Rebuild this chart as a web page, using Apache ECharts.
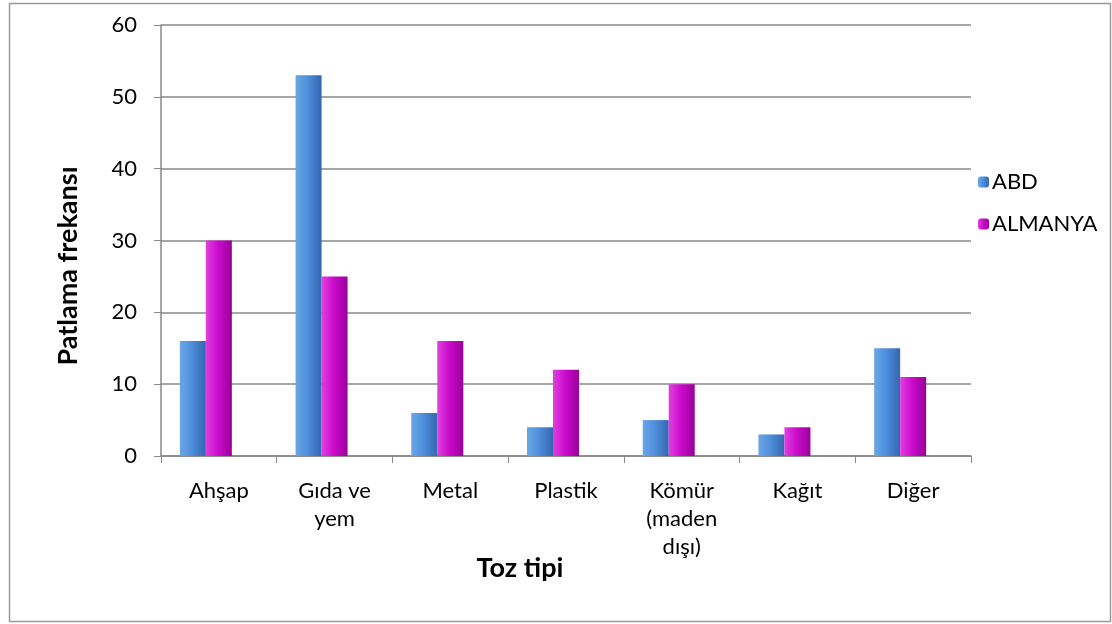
<!DOCTYPE html>
<html>
<head>
<meta charset="utf-8">
<script src="https://cdn.jsdelivr.net/npm/echarts@6/dist/echarts.min.js"></script>
<style>
  html, body { margin: 0; padding: 0; background: #fff; }
  #main { width: 1112px; height: 624px; }
</style>
</head>
<body>
<div id="main"></div>
<script>
// veriler
var categories = ['Ahşap', 'Gıda ve\nyem', 'Metal', 'Plastik', 'Kömür\n(maden\ndışı)', 'Kağıt', 'Diğer']
var abd = [16, 53, 6, 4, 5, 3, 15]
var almanya = [30, 25, 16, 12, 10, 4, 11]
var yTicks = [0, 10, 20, 30, 40, 50, 60]

var font = 'Lato'

function grad(c1, c2, c3) {
  return new echarts.graphic.LinearGradient(0, 0, 1, 0, [
    { offset: 0, color: c1 },
    { offset: 0.45, color: c2 },
    { offset: 1, color: c3 }
  ])
}

var myChart = echarts.init(document.getElementById('main'))

var option = {
  backgroundColor: '#fff',
  animation: false,
  grid: { left: 161, right: 141, top: 25, bottom: 168 },
  legend: {
    orient: 'vertical',
    left: 973,
    top: 166,
    itemWidth: 11,
    itemHeight: 11,
    itemGap: 20,
    data: ['ABD', 'ALMANYA'],
    textStyle: { fontFamily: font, fontSize: 22, color: '#000', padding: [0, 0, 0, -2] }
  },
  xAxis: {
    type: 'category',
    data: categories,
    axisLine: { lineStyle: { color: '#888', width: 1.5 } },
    axisTick: { show: true, length: 7, lineStyle: { color: '#888' } },
    axisLabel: {
      interval: 0,
      margin: 21,
      fontFamily: font,
      fontSize: 22,
      color: '#000',
      lineHeight: 28
    }
  },
  yAxis: {
    type: 'value',
    min: 0,
    max: 60,
    interval: 10,
    axisLine: { show: true, lineStyle: { color: '#888', width: 1.5 } },
    axisTick: { show: true, length: 7, lineStyle: { color: '#888' } },
    splitLine: { lineStyle: { color: '#888', width: 1.5 } },
    axisLabel: {
      margin: 24,
      fontFamily: font,
      fontSize: 22,
      color: '#000',
      formatter: function (v) { return yTicks.indexOf(v) >= 0 ? String(v) : '' }
    }
  },
  series: [
    {
      name: 'ABD',
      type: 'bar',
      data: abd,
      barWidth: 26,
      barGap: '0%',
      itemStyle: { color: grad('#6aa6e6', '#4f8fdc', '#3566b0') }
    },
    {
      name: 'ALMANYA',
      type: 'bar',
      data: almanya,
      barWidth: 26,
      barGap: '0%',
      itemStyle: { color: grad('#e040e0', '#cc0ccc', '#9a009a') }
    },
    {
      // boş seri: çubukları sola kaydırmak için
      name: 'bos',
      type: 'bar',
      data: categories.map(function () { return null }),
      barWidth: 26,
      barGap: '0%'
    }
  ],
  graphic: [
    {
      type: 'rect',
      left: 7,
      top: 1,
      shape: { width: 1101, height: 618 },
      style: { fill: 'none', stroke: '#9a9a9a', lineWidth: 1.5 },
      silent: true
    },
    {
      type: 'text',
      x: 68,
      y: 266,
      rotation: Math.PI / 2,
      style: {
        text: 'Patlama frekansı',
        fontFamily: font,
        fontSize: 27,
        fontWeight: 'bold',
        fill: '#000',
        align: 'center',
        verticalAlign: 'middle'
      }
    },
    {
      type: 'text',
      x: 520,
      y: 568,
      style: {
        text: 'Toz tipi',
        fontFamily: font,
        fontSize: 27,
        fontWeight: 'bold',
        fill: '#000',
        align: 'center',
        verticalAlign: 'middle'
      }
    }
  ]
}

myChart.setOption(option)
</script>
</body>
</html>
